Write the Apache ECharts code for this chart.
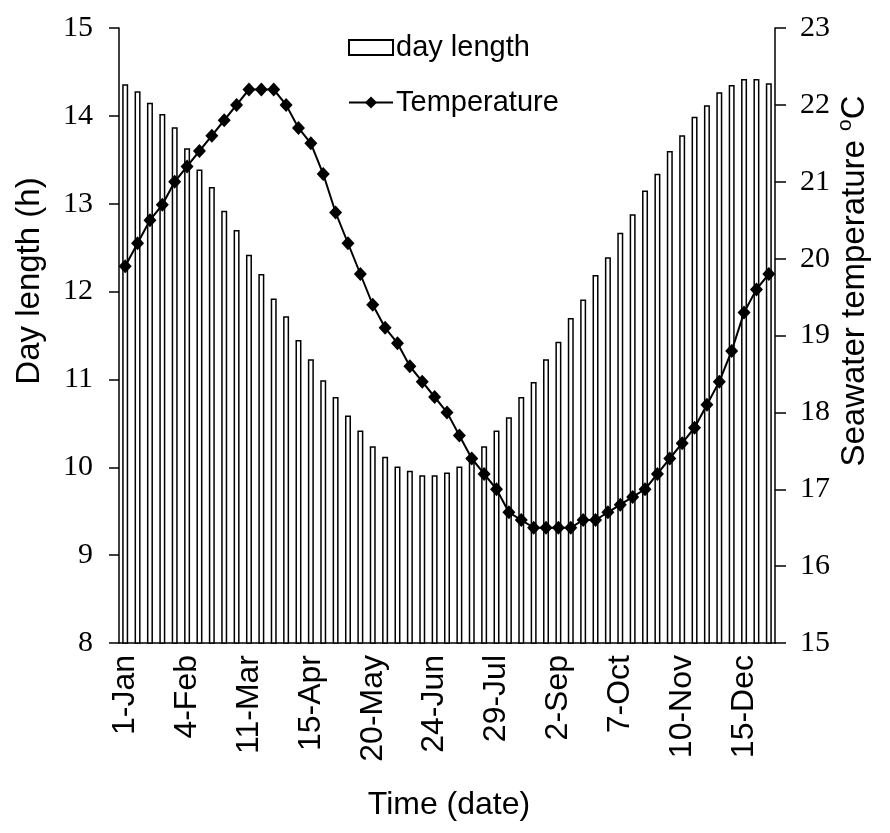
<!DOCTYPE html>
<html>
<head>
<meta charset="utf-8">
<script src="https://cdn.jsdelivr.net/npm/echarts@6/dist/echarts.min.js"></script>
<style>
html,body{margin:0;padding:0;background:#fff;}
#chart{width:890px;height:833px;}
</style>
</head>
<body>
<div id="chart"></div>
<script>
const tickLabels = ['1-Jan','4-Feb','11-Mar','15-Apr','20-May','24-Jun','29-Jul','2-Sep','7-Oct','10-Nov','15-Dec'];
const dayLength = [14.36,14.28,14.15,14.02,13.87,13.63,13.39,13.19,12.92,12.70,
  12.42,12.20,11.92,11.72,11.45,11.23,10.99,10.80,10.59,10.42,
  10.24,10.12,10.01,9.96,9.91,9.91,9.94,10.01,10.10,10.24,
  10.42,10.57,10.80,10.97,11.23,11.43,11.70,11.91,12.19,12.39,
  12.67,12.88,13.15,13.34,13.60,13.78,13.99,14.12,14.27,14.35,
  14.42,14.42,14.37];
const temperature = [19.9,20.2,20.5,20.7,21.0,21.2,21.4,21.6,21.8,22.0,
  22.2,22.2,22.2,22.0,21.7,21.5,21.1,20.6,20.2,19.8,
  19.4,19.1,18.9,18.6,18.4,18.2,18.0,17.7,17.4,17.2,
  17.0,16.7,16.6,16.5,16.5,16.5,16.5,16.6,16.6,16.7,
  16.8,16.9,17.0,17.2,17.4,17.6,17.8,18.1,18.4,18.8,
  19.3,19.6,19.8];
const categories = dayLength.map((_, i) => 'W' + (i + 1));

const chart = echarts.init(document.getElementById('chart'), null, {renderer: 'canvas'});
const sans = 'Liberation Sans, Arial, sans-serif';
const serif = 'Liberation Serif, Times New Roman, serif';
chart.setOption({
  animation: false,
  backgroundColor: '#fff',
  grid: {left: 119, right: 115, top: 28, bottom: 190, containLabel: false},
  legend: {
    orient: 'vertical', left: 343, top: 27,
    itemWidth: 44, itemHeight: 15, itemGap: 24,
    textStyle: {fontFamily: sans, fontSize: 29, color: '#000', lineHeight: 31, padding: [0,0,0,-2]},
    data: [{name: 'day length', icon: 'rect'}, {name: 'Temperature'}]
  },
  xAxis: {
    type: 'category', data: categories, boundaryGap: true,
    axisLine: {lineStyle: {color: '#000', width: 1.5}},
    axisTick: {show: false},
    axisLabel: {
      interval: 0, rotate: 90, margin: 12, color: '#000',
      fontFamily: sans, fontSize: 32,
      formatter: (v, i) => (i % 5 === 0 ? tickLabels[i / 5] : '')
    },
    splitLine: {show: false}
  },
  yAxis: [{
    type: 'value', min: 8, max: 15, interval: 1,
    axisLine: {show: true, lineStyle: {color: '#000', width: 1.5}},
    axisTick: {show: true, length: 10, lineStyle: {color: '#000', width: 1.5}},
    axisLabel: {color: '#000', fontFamily: serif, fontSize: 30, margin: 26},
    splitLine: {show: false}
  }, {
    type: 'value', min: 15, max: 23, interval: 1, position: 'right',
    axisLine: {show: true, lineStyle: {color: '#000', width: 1.5}},
    axisTick: {show: true, length: 11, lineStyle: {color: '#000', width: 1.5}},
    axisLabel: {color: '#000', fontFamily: serif, fontSize: 30, margin: 25},
    splitLine: {show: false}
  }],
  series: [{
    name: 'day length', type: 'bar', data: dayLength, barWidth: 6,
    itemStyle: {color: '#fff', borderColor: '#000', borderWidth: 1.5},
    z: 2
  }, {
    name: 'Temperature', type: 'line', yAxisIndex: 1, data: temperature,
    symbol: 'diamond', symbolSize: [13, 14],
    lineStyle: {color: '#000', width: 2},
    itemStyle: {color: '#000', borderWidth: 0},
    z: 3
  }],
  graphic: [{
    type: 'text', x: 30, y: 281, rotation: Math.PI / 2,
    style: {text: 'Day length (h)', font: '33px ' + sans, fill: '#000', align: 'center', verticalAlign: 'middle'}
  }, {
    type: 'text', x: 853, y: 281, rotation: Math.PI / 2,
    style: {
      text: '{a|Seawater temperature }{s|o}{a|C}',
      align: 'center', verticalAlign: 'middle',
      rich: {
        a: {fontFamily: sans, fontSize: 33, fill: '#000', lineHeight: 36, verticalAlign: 'bottom'},
        s: {fontFamily: sans, fontSize: 21, fill: '#000', lineHeight: 36, verticalAlign: 'top'}
      }
    }
  }, {
    type: 'text', x: 449, y: 805,
    style: {text: 'Time (date)', font: '32px ' + sans, fill: '#000', align: 'center', verticalAlign: 'middle'}
  }]
});
</script>
</body>
</html>
